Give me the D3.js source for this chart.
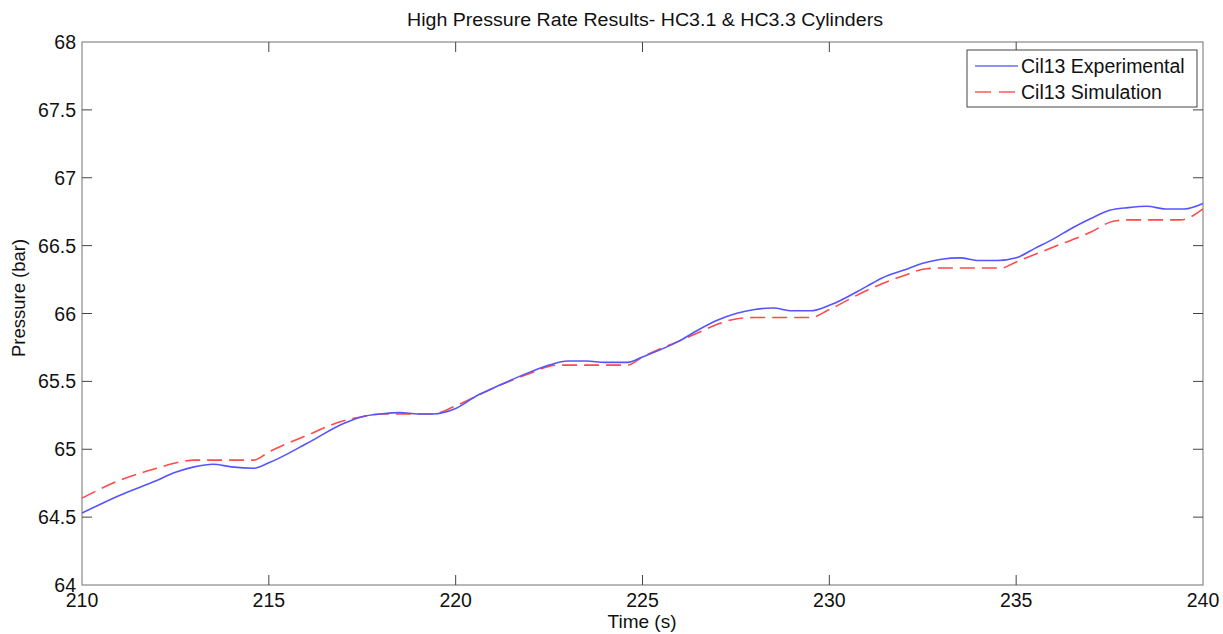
<!DOCTYPE html>
<html>
<head>
<meta charset="utf-8">
<script src="https://cdn.jsdelivr.net/npm/d3@7"></script>
<style>
  body { margin: 0; background: #fff; }
  svg text { font-family: "Liberation Sans", Arial, sans-serif; fill: #111; }
</style>
</head>
<body>
<div id="chart"></div>
<script>
// time axis (s) and readings (bar)
var expTime = [210, 211, 212, 212.5, 213, 213.5, 214, 214.6, 215, 216, 217, 217.5, 218, 218.5, 219, 219.4,
  220, 220.6, 221, 222, 222.5, 223, 223.5, 224, 224.6, 225, 226, 226.5, 227, 227.5, 228, 228.5, 229, 229.5,
  230, 231, 231.4, 232, 232.5, 233, 233.5, 234, 234.5, 235, 235.5, 236, 236.5, 237, 237.5, 238, 238.5, 239, 239.5, 240];
var expPressure = [64.53, 64.66, 64.77, 64.83, 64.87, 64.89, 64.87, 64.86, 64.9, 65.04, 65.19, 65.24, 65.26, 65.27, 65.26, 65.26,
  65.3, 65.4, 65.45, 65.57, 65.62, 65.65, 65.65, 65.64, 65.64, 65.68, 65.8, 65.88, 65.95, 66.0, 66.03, 66.04, 66.02, 66.02,
  66.06, 66.2, 66.26, 66.32, 66.37, 66.4, 66.41, 66.39, 66.39, 66.41, 66.48, 66.55, 66.63, 66.7, 66.76, 66.78, 66.79, 66.77, 66.77, 66.81];

var simTime = [210, 211, 212, 212.7, 213, 214, 214.6, 215, 216, 217, 217.5, 218, 219, 219.4,
  220, 221, 222, 222.7, 223, 224, 224.6, 225, 226, 226.5, 227, 227.5, 228, 229, 229.5,
  230, 231, 232, 232.6, 233, 234, 234.6, 235, 236, 237, 237.6, 238, 239, 239.4, 240];
var simPressure = [64.64, 64.77, 64.86, 64.91, 64.92, 64.92, 64.92, 64.98, 65.1, 65.21, 65.24, 65.26, 65.26, 65.26,
  65.32, 65.45, 65.56, 65.62, 65.62, 65.62, 65.62, 65.68, 65.8, 65.86, 65.92, 65.96, 65.97, 65.97, 65.97,
  66.03, 66.17, 66.28, 66.33, 66.335, 66.335, 66.335, 66.38, 66.49, 66.6, 66.68, 66.69, 66.69, 66.69, 66.77];

var xTicks = [210, 215, 220, 225, 230, 235, 240];
var yTicks = [64, 64.5, 65, 65.5, 66, 66.5, 67, 67.5, 68];
var seriesNames = ["Cil13 Experimental", "Cil13 Simulation"];

var W = 1223, H = 634;
var margin = {top: 42, right: 20, bottom: 49, left: 82};
var width = 1203 - margin.left, height = 585 - margin.top;

var svg = d3.select("#chart").append("svg")
    .attr("width", W)
    .attr("height", H);

var g = svg.append("g")
    .attr("transform", "translate(" + margin.left + "," + margin.top + ")");

var x = d3.scaleLinear().domain([210, 240]).range([0, width]);
var y = d3.scaleLinear().domain([64, 68]).range([height, 0]);

// frame
g.append("rect")
    .attr("width", width).attr("height", height)
    .attr("fill", "none").attr("stroke", "#888").attr("stroke-width", 1.2);

// inward ticks, all four sides
var TL = 10;
xTicks.forEach(function (t) {
    if (t === 210 || t === 240) return;
    g.append("line").attr("x1", x(t)).attr("x2", x(t)).attr("y1", height).attr("y2", height - TL).attr("stroke", "#444");
    g.append("line").attr("x1", x(t)).attr("x2", x(t)).attr("y1", 0).attr("y2", TL).attr("stroke", "#444");
});
yTicks.forEach(function (t) {
    if (t === 64 || t === 68) return;
    g.append("line").attr("x1", 0).attr("x2", TL).attr("y1", y(t)).attr("y2", y(t)).attr("stroke", "#444");
    g.append("line").attr("x1", width).attr("x2", width - TL).attr("y1", y(t)).attr("y2", y(t)).attr("stroke", "#444");
});

g.selectAll("text.xt").data(xTicks).enter().append("text")
    .attr("class", "xt")
    .attr("x", d => x(d)).attr("y", height + 22)
    .attr("text-anchor", "middle")
    .style("font-size", "19.5px")
    .text(d => d);

g.selectAll("text.yt").data(yTicks).enter().append("text")
    .attr("class", "yt")
    .attr("x", -6).attr("y", d => y(d) + 7)
    .attr("text-anchor", "end")
    .style("font-size", "19.5px")
    .text(d => d);

var line = d3.line()
    .x(d => x(d[0]))
    .y(d => y(d[1]))
    .curve(d3.curveMonotoneX);

g.append("path")
    .datum(d3.zip(simTime, simPressure))
    .attr("d", line)
    .attr("fill", "none").attr("stroke", "#ff4a4a").attr("stroke-width", 1.6)
    .attr("stroke-dasharray", "15,7");

g.append("path")
    .datum(d3.zip(expTime, expPressure))
    .attr("d", line)
    .attr("fill", "none").attr("stroke", "#5555ff").attr("stroke-width", 1.6);

// titles
svg.append("text")
    .attr("x", 645).attr("y", 26)
    .attr("text-anchor", "middle")
    .attr("textLength", 476).attr("lengthAdjust", "spacingAndGlyphs")
    .style("font-size", "18px")
    .text("High Pressure Rate Results- HC3.1 & HC3.3 Cylinders");

svg.append("text")
    .attr("x", 642).attr("y", 628)
    .attr("text-anchor", "middle")
    .style("font-size", "19px")
    .text("Time (s)");

svg.append("text")
    .attr("transform", "translate(25,298) rotate(-90)")
    .attr("text-anchor", "middle")
    .style("font-size", "18.5px")
    .text("Pressure (bar)");

// legend
var lg = svg.append("g").attr("transform", "translate(967,50)");
lg.append("rect").attr("width", 230).attr("height", 57)
    .attr("fill", "#fff").attr("stroke", "#444").attr("stroke-width", 1);
var colors = ["#6b6bff", "#ff5a5a"];
var dashes = [null, "16,8"];
seriesNames.forEach(function (name, i) {
    var yy = 16 + i * 26;
    lg.append("line").attr("x1", 8).attr("x2", 51).attr("y1", yy).attr("y2", yy)
        .attr("stroke", colors[i]).attr("stroke-width", 1.4)
        .attr("stroke-dasharray", dashes[i]);
    lg.append("text").attr("x", 54).attr("y", yy + 7)
        .style("font-size", "19.5px").text(name);
});
</script>
</body>
</html>
